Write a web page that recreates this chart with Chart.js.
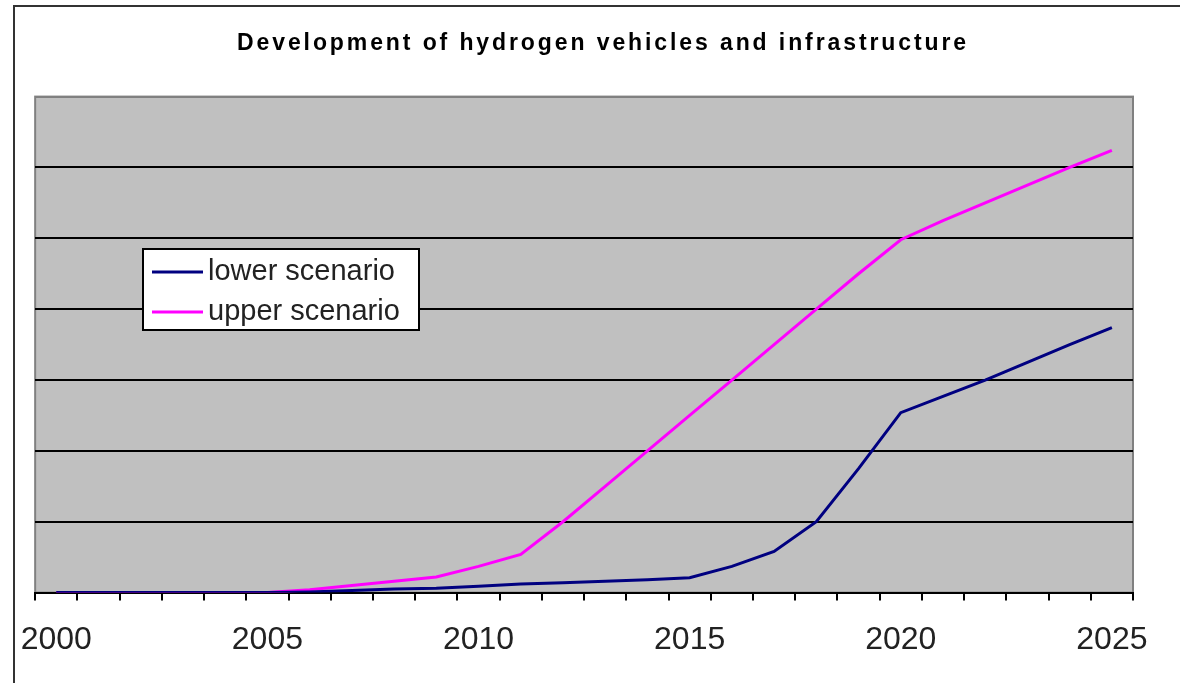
<!DOCTYPE html>
<html>
<head>
<meta charset="utf-8">
<title>Development of hydrogen vehicles and infrastructure</title>
<script src="https://cdn.jsdelivr.net/npm/chart.js@4/dist/chart.umd.min.js"></script>
<style>
    body { margin: 0; background: #fff; }
    #wrap { width: 1180px; height: 683px; }
</style>
</head>
<body>
<div id="wrap"><canvas id="h2Chart" width="1180" height="683"></canvas></div>
<script>
"use strict";

// Years on the category axis
const years = ["2000", "2001", "2002", "2003", "2004", "2005", "2006", "2007", "2008", "2009",
    "2010", "2011", "2012", "2013", "2014", "2015", "2016", "2017", "2018", "2019",
    "2020", "2021", "2022", "2023", "2024", "2025"];

// Values (no units shown on the y axis)
const lowerScenario = [0, 0, 0, 0, 0, 0, 0.01, 0.03, 0.05, 0.06,
    0.09, 0.12, 0.14, 0.16, 0.18, 0.21, 0.37, 0.58, 1.0, 1.75,
    2.54, 2.77, 3.0, 3.25, 3.5, 3.74];
const upperScenario = [0, 0, 0, 0, 0, 0, 0.04, 0.1, 0.16, 0.22,
    0.37, 0.54, 1.0, 1.5, 2.0, 2.5, 3.0, 3.5, 4.0, 4.5,
    4.98, 5.25, 5.5, 5.75, 6.0, 6.24];

const seriesNames = ["lower scenario", "upper scenario"];
const yMax = 7;

// Frame, grey plot area and wide title spacing
const backdrop = {
    id: "backdrop",
    beforeDraw(chart) {
        const ctx = chart.ctx;
        const a = chart.chartArea;
        ctx.save();
        ctx.fillStyle = "#fff";
        ctx.fillRect(0, 0, chart.width, chart.height);
        ctx.strokeStyle = "#333";
        ctx.lineWidth = 2;
        ctx.beginPath();
        ctx.moveTo(14, chart.height);
        ctx.lineTo(14, 6);
        ctx.lineTo(chart.width, 6);
        ctx.stroke();
        ctx.fillStyle = "#c0c0c0";
        ctx.fillRect(a.left, a.top, a.right - a.left, a.bottom - a.top);
        ctx.strokeStyle = "#808080";
        ctx.lineWidth = 2;
        ctx.strokeRect(a.left, a.top, a.right - a.left, a.bottom - a.top);
        ctx.restore();
        ctx.letterSpacing = "2.9px";
    },
    beforeDatasetsDraw(chart) {
        chart.ctx.letterSpacing = "0px";
    }
};

// Legend box inside the plot, like the original
const boxLegend = {
    id: "boxLegend",
    afterDatasetsDraw(chart) {
        const ctx = chart.ctx;
        const x = 143, y = 249, w = 276, h = 81;
        ctx.save();
        ctx.fillStyle = "#fff";
        ctx.fillRect(x, y, w, h);
        ctx.strokeStyle = "#000";
        ctx.lineWidth = 2;
        ctx.strokeRect(x, y, w, h);
        ctx.font = "29px 'Liberation Sans', Arial, sans-serif";
        ctx.textBaseline = "middle";
        chart.data.datasets.forEach((ds, i) => {
            const rowY = y + 23 + i * 40;
            ctx.strokeStyle = ds.borderColor;
            ctx.lineWidth = 3;
            ctx.beginPath();
            ctx.moveTo(x + 9, rowY);
            ctx.lineTo(x + 60, rowY);
            ctx.stroke();
            ctx.fillStyle = "#222";
            ctx.fillText(ds.label, x + 65, rowY);
        });
        ctx.restore();
    }
};

new Chart(document.getElementById("h2Chart"), {
    type: "line",
    data: {
        labels: years,
        datasets: [{
            label: seriesNames[0],
            data: lowerScenario,
            borderColor: "#000080",
            borderWidth: 3,
            pointRadius: 0,
            tension: 0
        }, {
            label: seriesNames[1],
            data: upperScenario,
            borderColor: "#ff00ff",
            borderWidth: 3,
            pointRadius: 0,
            tension: 0
        }]
    },
    options: {
        responsive: false,
        devicePixelRatio: 1,
        animation: false,
        layout: {
            padding: { left: 26, right: 0, top: 10, bottom: 4 }
        },
        plugins: {
            legend: { display: false },
            tooltip: { enabled: false },
            title: {
                display: true,
                text: "Development of hydrogen vehicles and infrastructure",
                color: "#000",
                font: { family: "'Liberation Sans', Arial, sans-serif", size: 23, weight: "bold" },
                padding: { top: 20, bottom: 39 }
            }
        },
        scales: {
            x: {
                offset: true,
                grid: {
                    offset: true,
                    drawOnChartArea: false,
                    drawTicks: true,
                    tickLength: 8,
                    color: "#000",
                    lineWidth: 2
                },
                border: { color: "#000", width: 2 },
                ticks: {
                    z: 1,
                    autoSkip: false,
                    maxRotation: 0,
                    padding: 20,
                    color: "#222",
                    font: { family: "'Liberation Sans', Arial, sans-serif", size: 32 },
                    callback: function (value, index) {
                        const year = years[index];
                        return Number(year) % 5 === 0 ? year : "";
                    }
                }
            },
            y: {
                min: 0,
                max: yMax,
                ticks: { display: false, stepSize: 1 },
                border: { display: false },
                grid: {
                    drawTicks: false,
                    color: ctx => ctx.tick.value === yMax ? "#808080" : "#000",
                    lineWidth: 2
                },
                afterFit: scale => { scale.width = 9; }
            },
            // empty right axis, only keeps the white margin at the right
            yRight: {
                position: "right",
                min: 0,
                max: yMax,
                ticks: { display: false },
                border: { display: false },
                grid: { display: false },
                afterFit: scale => { scale.width = 47; }
            }
        }
    },
    plugins: [backdrop, boxLegend]
});
</script>
</body>
</html>
